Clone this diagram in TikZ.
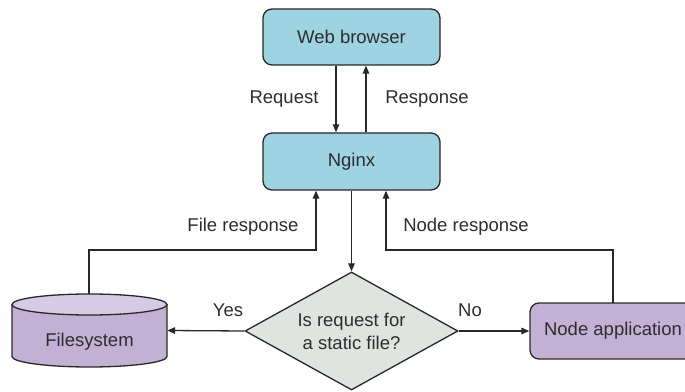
\documentclass[tikz,border=0pt]{standalone}
\usepackage{fontspec}
\setmainfont{Liberation Sans}
\usetikzlibrary{shapes.geometric,arrows.meta}
\definecolor{boxblue}{RGB}{158,211,226}
\definecolor{boxpurple}{RGB}{195,177,213}
\definecolor{toppurple}{RGB}{214,202,229}
\definecolor{diagray}{RGB}{224,228,224}
\definecolor{txt}{RGB}{45,45,45}
\definecolor{ln}{RGB}{40,40,40}
\begin{document}
\begin{tikzpicture}[x=1pt,y=1pt,
  font=\fontsize{18.5}{22}\selectfont, text=txt,
  bluebox/.style={draw=ln, line width=1.3pt, fill=boxblue, rounded corners=9pt, minimum width=177pt, minimum height=56pt, inner sep=0pt},
  purplebox/.style={draw=ln, line width=1.3pt, fill=boxpurple, rounded corners=9pt, minimum width=166pt, minimum height=56pt, inner sep=0pt},
  decision/.style={diamond, draw=ln, line width=1.3pt, fill=diagray, shape aspect=1.8, minimum width=213pt, minimum height=118pt, inner sep=0pt, align=center},
  conn/.style={draw=ln, line width=1.3pt},
  arr/.style={conn, -{Triangle[length=8pt,width=6.5pt]}},
  lbl/.style={inner sep=0pt}
]
\useasboundingbox (0,0) rectangle (685,391);
\node[bluebox] (web) at (351.5,354) {Web browser};
\node[bluebox, minimum height=57pt] (nginx) at (351.5,229.5) {Nginx};
\node[decision] (dec) at (351.5,60) {Is request for\\[1pt]a static file?};
\node[purplebox] (app) at (613,60) {};
\node at (613,60) {Node application};
% filesystem cylinder
\node[minimum width=155pt, minimum height=73pt, inner sep=0pt] (fs) at (89.5,60.5) {};
\fill[boxpurple] (12,86.5) -- (12,34.5) arc[start angle=180,end angle=360,x radius=77.5,y radius=10.5] -- (167,86.5) -- cycle;
\draw[conn] (12,86.5) -- (12,34.5) arc[start angle=180,end angle=360,x radius=77.5,y radius=10.5] -- (167,86.5);
\draw[conn, fill=toppurple] (89.5,86.5) ellipse[x radius=77.5, y radius=10.5];
\node (fstext) at (89.5,49) {Filesystem};
% connectors
\coordinate (fstop) at (89,97);
\coordinate (apptop) at (613,88);
\draw[arr] (web.south -| 336,0) -- (nginx.north -| 336,0);
\draw[arr] (nginx.north -| 366,0) -- (web.south -| 366,0);
\draw[arr] (nginx.south) -- (dec.north);
\draw[arr] (fstop) -- (89,141) -- (316,141) -- (nginx.south -| 316,0);
\draw[arr] (apptop) -- (613,141) -- (386,141) -- (nginx.south -| 386,0);
\draw[arr] (dec.west) -- (fs.east);
\draw[arr] (dec.east) -- (app.west);
% labels
\node[lbl] at (284,292) {Request};
\node[lbl] at (427,292) {Response};
\node[lbl] at (243,164) {File response};
\node[lbl] at (466,164) {Node response};
\node[lbl] at (228,81) {Yes};
\node[lbl] at (470,81) {No};
\end{tikzpicture}
\end{document}
